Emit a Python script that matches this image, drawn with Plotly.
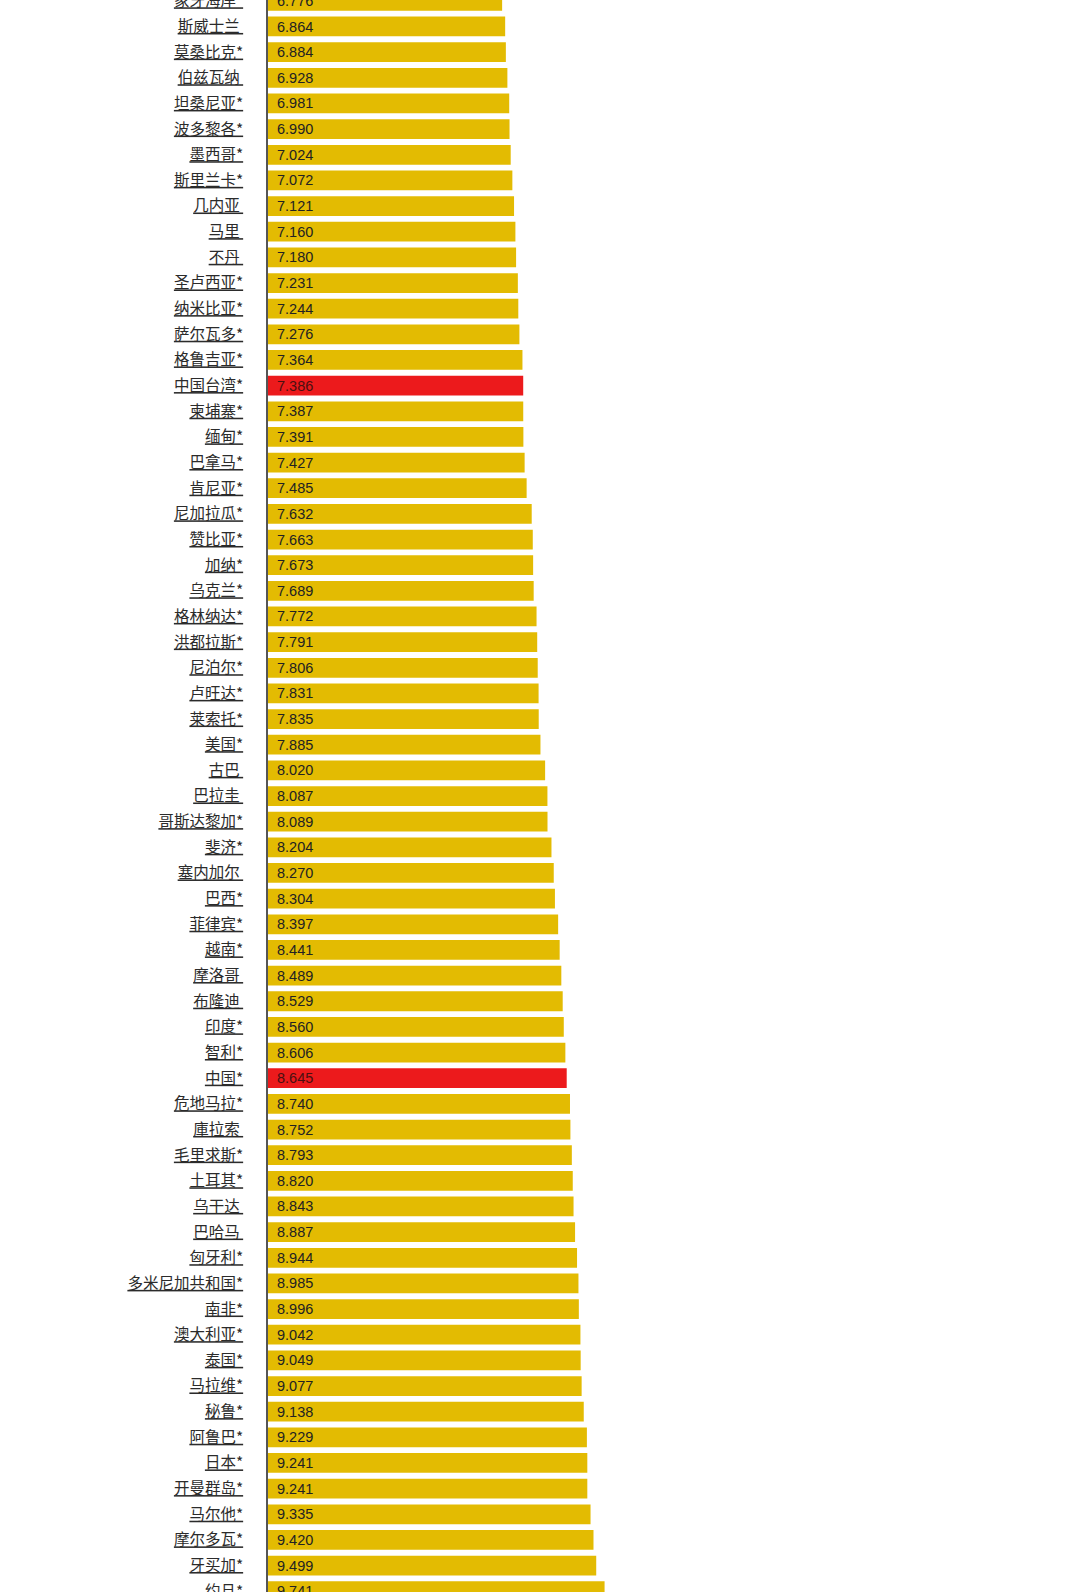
import plotly.graph_objects as go

countries = [
    "象牙海岸*", "斯威士兰 ", "莫桑比克*", "伯兹瓦纳 ", "坦桑尼亚*", "波多黎各*", "墨西哥*",
    "斯里兰卡*", "几内亚 ", "马里 ", "不丹 ", "圣卢西亚*", "纳米比亚*", "萨尔瓦多*",
    "格鲁吉亚*", "中国台湾*", "柬埔寨*", "缅甸*", "巴拿马*", "肯尼亚*", "尼加拉瓜*",
    "赞比亚*", "加纳*", "乌克兰*", "格林纳达*", "洪都拉斯*", "尼泊尔*", "卢旺达*",
    "莱索托*", "美国*", "古巴 ", "巴拉圭 ", "哥斯达黎加*", "斐济*", "塞内加尔 ", "巴西*",
    "菲律宾*", "越南*", "摩洛哥 ", "布隆迪 ", "印度*", "智利*", "中国*", "危地马拉*",
    "庫拉索 ", "毛里求斯*", "土耳其*", "乌干达 ", "巴哈马 ", "匈牙利*", "多米尼加共和国*",
    "南非*", "澳大利亚*", "泰国*", "马拉维*", "秘鲁*", "阿鲁巴*", "日本*", "开曼群岛*",
    "马尔他*", "摩尔多瓦*", "牙买加*", "约旦*",
]
values = [
    6.776, 6.864, 6.884, 6.928, 6.981, 6.990, 7.024,
    7.072, 7.121, 7.160, 7.180, 7.231, 7.244, 7.276,
    7.364, 7.386, 7.387, 7.391, 7.427, 7.485, 7.632,
    7.663, 7.673, 7.689, 7.772, 7.791, 7.806, 7.831,
    7.835, 7.885, 8.020, 8.087, 8.089, 8.204, 8.270, 8.304,
    8.397, 8.441, 8.489, 8.529, 8.560, 8.606, 8.645, 8.740,
    8.752, 8.793, 8.820, 8.843, 8.887, 8.944, 8.985,
    8.996, 9.042, 9.049, 9.077, 9.138, 9.229, 9.241, 9.241,
    9.335, 9.420, 9.499, 9.741,
]
highlighted = ["中国台湾*", "中国*"]

GOLD = "#E3BB02"
RED = "#EC1A1C"

ids = [f"r{i}" for i in range(len(countries))]
colors = [RED if c in highlighted else GOLD for c in countries]
text_colors = ["#4a1010" if c in highlighted else "#222222" for c in countries]
ticktext = ["<u>" + c.replace(" ", "\u00a0") + "</u>" for c in countries]

fig = go.Figure()
fig.add_trace(go.Bar(
    x=values,
    y=ids,
    orientation="h",
    marker=dict(color=colors, line=dict(width=0)),
    width=0.77,
    hoverinfo="skip",
))

for i, (v, tc) in enumerate(zip(values, text_colors)):
    fig.add_annotation(
        x=0, y=ids[i], xref="x", yref="y",
        text=f"{v:.3f}", showarrow=False,
        xanchor="left", yanchor="middle", xshift=7,
        font=dict(family="Liberation Sans, Arial, sans-serif", size=14.5, color=tc),
    )

fig.update_layout(
    width=1080,
    height=1592,
    margin=dict(l=268, r=0, t=0, b=0, autoexpand=False),
    paper_bgcolor="white",
    plot_bgcolor="white",
    showlegend=False,
    xaxis=dict(visible=False, range=[0, 23.5], fixedrange=True, automargin=False),
    yaxis=dict(
        type="category",
        categoryorder="array",
        categoryarray=ids,
        tickvals=ids,
        ticktext=ticktext,
        range=[62.03, -0.033],
        automargin=False,
        showline=True,
        linecolor="#555555",
        linewidth=1.5,
        showgrid=False,
        zeroline=False,
        ticks="",
        ticklabelstandoff=20,
        tickfont=dict(family="Noto Sans CJK SC, sans-serif", size=15.5, color="#2b2b2b"),
    ),
)

fig.write_html(
    "out.html",
    config={"displayModeBar": False},
    post_script="document.body.style.margin='0';",
)
